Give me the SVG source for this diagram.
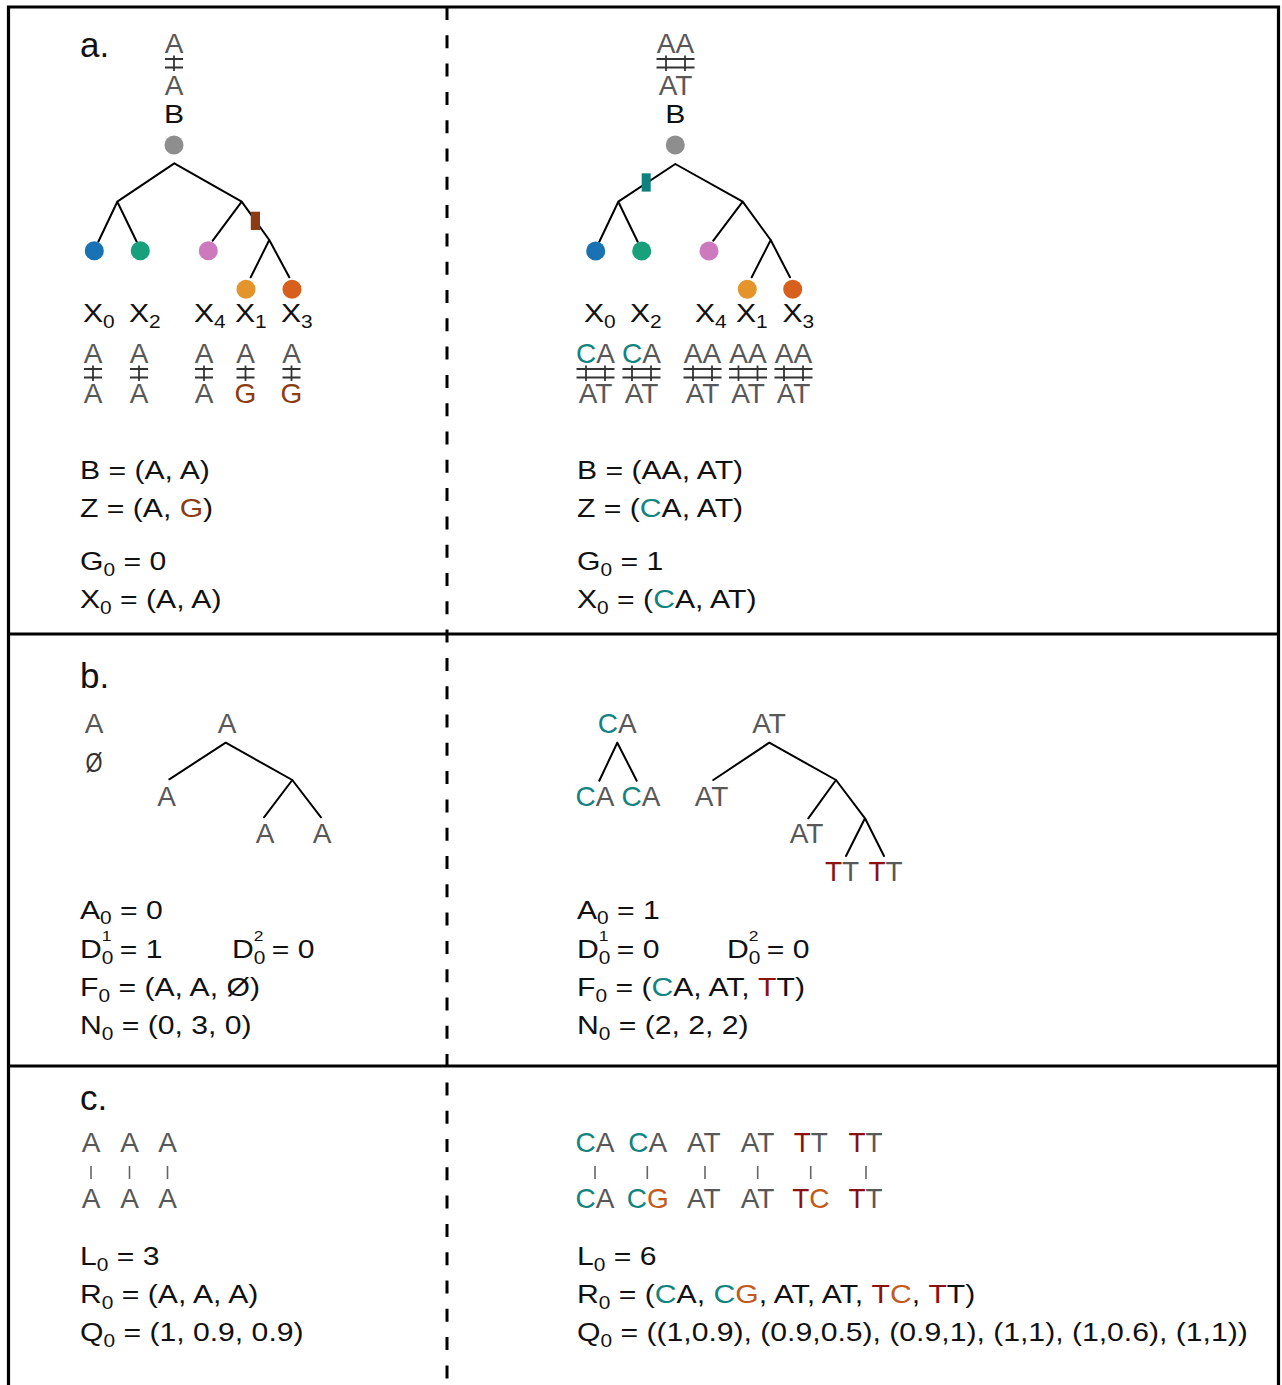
<svg xmlns="http://www.w3.org/2000/svg" xmlns:xlink="http://www.w3.org/1999/xlink" width="1282" height="1385" viewBox="0 0 1282 1385">
<style>
text { font-family: "Liberation Sans", Arial, sans-serif; }
.g { font-size: 28px; fill: #585858; text-anchor: middle; }
.k { font-size: 26px; fill: #111; }
.km { font-size: 26px; fill: #111; text-anchor: middle; }
.s { font-size: 18px; }
.sp { font-size: 15px; }
.lbl { font-size: 35px; fill: #111; }
.teal { fill: #118480; }
.brn { fill: #8b3c12; }
.org { fill: #c25a1e; }
.red { fill: #8b1010; }
.edge { stroke: #000; stroke-width: 2; fill: none; stroke-linecap: round; }
.bar { stroke: #333; stroke-width: 1.8; fill: none; }
.vb { stroke: #666; stroke-width: 1.6; }
.frame { stroke: #000; stroke-width: 3.2; fill: none; }
.dash { stroke: #000; stroke-width: 3; stroke-dasharray: 13 15.3; }
</style>
<defs>
<path id="bar1" class="bar" d="M-9 6H9M-9 14.5H9M0 2.5V18"/>
<path id="bar2" class="bar" d="M-19 6H19M-19 14.5H19M-9.5 2.5V18M9.5 2.5V18"/>
</defs>
<rect width="1282" height="1385" fill="#fff"/>

<!-- frame -->
<g id="frame">
<path class="frame" d="M8.5 1385V7H1278.5V1385"/>
<path class="frame" d="M8.5 634H1278.5M8.5 1066H1278.5"/>
<path class="dash" d="M447 7V1385"/>
</g>

<!-- connectors -->
<g id="connectors">
<path class="edge" d="M174.3 163.3L117.3 201.7M174.3 163.3L241.7 201.7M117.3 201.7L98.3 241.7M117.3 201.7L136.7 241.7M241.7 201.7L212.7 240.7M241.7 201.7L269.3 240M269.3 240L250.7 277.3M269.3 240L289.3 277.3"/>
<path class="edge" d="M675.3 164L618.3 201.7M675.3 164L742.7 201.7M618.3 201.7L599.3 241.7M618.3 201.7L637.7 241.7M742.7 201.7L713.3 240.7M742.7 201.7L770.7 240M770.7 240L751.7 277.3M770.7 240L790 277.3"/>
<path class="edge" d="M225.7 742.7L169.3 779.3M225.7 742.7L292.3 780M292.3 780L264 817.3M292.3 780L321 817.3"/>
<path class="edge" d="M617.3 742.7L599.3 780.7M617.3 742.7L636.7 780.7"/>
<path class="edge" d="M769.3 742.7L713.3 780M769.3 742.7L836 780M836 780L808.3 818.3M836 780L865 818.3M865 818.3L846 856M865 818.3L884 856"/>
<rect x="250.8" y="211.7" width="9.2" height="18.3" fill="#8b3c12"/>
<rect x="641.7" y="173.3" width="9" height="18.3" fill="#0f8080"/>
</g>

<!-- panel a left -->
<g id="a-label"><text class="lbl" x="80" y="57">a.</text></g>
<g id="a-root-left">
<text class="g" x="174" y="53">A</text>
<use xlink:href="#bar1" x="174" y="53"/>
<text class="g" x="174" y="95">A</text>
<text class="km" transform="translate(174 123) scale(1.16 1)">B</text>
<circle cx="174" cy="145" r="9.5" fill="#8e8e8e"/>
</g>
<g id="a-left-X0">
<circle cx="94.3" cy="250.7" r="9.5" fill="#1872b4"/>
<text class="k" transform="translate(83 322) scale(1.16 1)">X<tspan class="s" dy="6">0</tspan></text>
<text class="g" x="93" y="363">A</text><use xlink:href="#bar1" x="93" y="363"/><text class="g" x="93" y="403">A</text>
</g>
<g id="a-left-X2">
<circle cx="140.3" cy="250.7" r="9.5" fill="#18a07a"/>
<text class="k" transform="translate(129 322) scale(1.16 1)">X<tspan class="s" dy="6">2</tspan></text>
<text class="g" x="139" y="363">A</text><use xlink:href="#bar1" x="139" y="363"/><text class="g" x="139" y="403">A</text>
</g>
<g id="a-left-X4">
<circle cx="208.3" cy="250.7" r="9.5" fill="#cc79bd"/>
<text class="k" transform="translate(194 322) scale(1.16 1)">X<tspan class="s" dy="6">4</tspan></text>
<text class="g" x="204" y="363">A</text><use xlink:href="#bar1" x="204" y="363"/><text class="g" x="204" y="403">A</text>
</g>
<g id="a-left-X1">
<circle cx="246" cy="289.3" r="9.5" fill="#e3942a"/>
<text class="k" transform="translate(235 322) scale(1.16 1)">X<tspan class="s" dy="6">1</tspan></text>
<text class="g" x="245.5" y="363">A</text><use xlink:href="#bar1" x="245.5" y="363"/><text class="g brn" x="245.5" y="403">G</text>
</g>
<g id="a-left-X3">
<circle cx="292" cy="289.3" r="9.5" fill="#d6601c"/>
<text class="k" transform="translate(281 322) scale(1.16 1)">X<tspan class="s" dy="6">3</tspan></text>
<text class="g" x="291.5" y="363">A</text><use xlink:href="#bar1" x="291.5" y="363"/><text class="g brn" x="291.5" y="403">G</text>
</g>
<g id="a-left-text">
<text class="k" transform="translate(80 479) scale(1.16 1)">B = (A, A)</text>
<text class="k" transform="translate(80 517) scale(1.16 1)">Z = (A, <tspan class="brn">G</tspan>)</text>
<text class="k" transform="translate(80 570) scale(1.16 1)">G<tspan class="s" dy="6">0</tspan><tspan dy="-6"> = 0</tspan></text>
<text class="k" transform="translate(80 608) scale(1.16 1)">X<tspan class="s" dy="6">0</tspan><tspan dy="-6"> = (A, A)</tspan></text>
</g>

<!-- panel a right -->
<g id="a-root-right">
<text class="g" x="675.5" y="53">AA</text>
<use xlink:href="#bar2" x="675.5" y="53"/>
<text class="g" x="675.5" y="95">AT</text>
<text class="km" transform="translate(675.3 123) scale(1.16 1)">B</text>
<circle cx="675.3" cy="145" r="9.5" fill="#8e8e8e"/>
</g>
<g id="a-right-X0">
<circle cx="595.7" cy="251" r="9.5" fill="#1872b4"/>
<text class="k" transform="translate(584 322) scale(1.16 1)">X<tspan class="s" dy="6">0</tspan></text>
<text class="g" x="595.5" y="363"><tspan class="teal">C</tspan>A</text><use xlink:href="#bar2" x="595.5" y="363"/><text class="g" x="595.5" y="403">AT</text>
</g>
<g id="a-right-X2">
<circle cx="641.7" cy="251" r="9.5" fill="#18a07a"/>
<text class="k" transform="translate(630 322) scale(1.16 1)">X<tspan class="s" dy="6">2</tspan></text>
<text class="g" x="641.5" y="363"><tspan class="teal">C</tspan>A</text><use xlink:href="#bar2" x="641.5" y="363"/><text class="g" x="641.5" y="403">AT</text>
</g>
<g id="a-right-X4">
<circle cx="709" cy="251" r="9.5" fill="#cc79bd"/>
<text class="k" transform="translate(695 322) scale(1.16 1)">X<tspan class="s" dy="6">4</tspan></text>
<text class="g" x="702.5" y="363">AA</text><use xlink:href="#bar2" x="702.5" y="363"/><text class="g" x="702.5" y="403">AT</text>
</g>
<g id="a-right-X1">
<circle cx="747.3" cy="289.3" r="9.5" fill="#e3942a"/>
<text class="k" transform="translate(736 322) scale(1.16 1)">X<tspan class="s" dy="6">1</tspan></text>
<text class="g" x="748" y="363">AA</text><use xlink:href="#bar2" x="748" y="363"/><text class="g" x="748" y="403">AT</text>
</g>
<g id="a-right-X3">
<circle cx="792.7" cy="289.3" r="9.5" fill="#d6601c"/>
<text class="k" transform="translate(782.5 322) scale(1.16 1)">X<tspan class="s" dy="6">3</tspan></text>
<text class="g" x="793.5" y="363">AA</text><use xlink:href="#bar2" x="793.5" y="363"/><text class="g" x="793.5" y="403">AT</text>
</g>
<g id="a-right-text">
<text class="k" transform="translate(577 479) scale(1.16 1)">B = (AA, AT)</text>
<text class="k" transform="translate(577 517) scale(1.16 1)">Z = (<tspan class="teal">C</tspan>A, AT)</text>
<text class="k" transform="translate(577 570) scale(1.16 1)">G<tspan class="s" dy="6">0</tspan><tspan dy="-6"> = 1</tspan></text>
<text class="k" transform="translate(577 608) scale(1.16 1)">X<tspan class="s" dy="6">0</tspan><tspan dy="-6"> = (<tspan class="teal">C</tspan>A, AT)</tspan></text>
</g>

<!-- panel b left -->
<g id="b-label"><text class="lbl" x="80" y="688">b.</text></g>
<g id="b-left-legend">
<text class="g" x="94" y="733">A</text>
<text class="g" transform="translate(94 772) scale(0.78 1)" style="fill:#333">Ø</text>
</g>
<g id="b-left-root"><text class="g" x="227" y="733">A</text></g>
<g id="b-left-leaf1"><text class="g" x="166.7" y="806">A</text></g>
<g id="b-left-leaf2"><text class="g" x="265" y="843">A</text></g>
<g id="b-left-leaf3"><text class="g" x="322" y="843">A</text></g>
<g id="b-left-text">
<text class="k" transform="translate(80 919) scale(1.16 1)">A<tspan class="s" dy="5">0</tspan><tspan dy="-5"> = 0</tspan></text>
<text class="k" transform="translate(80 958) scale(1.16 1)">D<tspan class="s" dy="6">0</tspan><tspan class="sp" dx="-10" dy="-23">1</tspan><tspan dy="17"> = 1</tspan></text>
<text class="k" transform="translate(232 958) scale(1.16 1)">D<tspan class="s" dy="6">0</tspan><tspan class="sp" dx="-10" dy="-23">2</tspan><tspan dy="17"> = 0</tspan></text>
<text class="k" transform="translate(80 996) scale(1.16 1)">F<tspan class="s" dy="6">0</tspan><tspan dy="-6"> = (A, A, Ø)</tspan></text>
<text class="k" transform="translate(80 1034) scale(1.16 1)">N<tspan class="s" dy="6">0</tspan><tspan dy="-6"> = (0, 3, 0)</tspan></text>
</g>

<!-- panel b right -->
<g id="b-right-root1"><text class="g" x="617.3" y="733"><tspan class="teal">C</tspan>A</text></g>
<g id="b-right-leaf1a"><text class="g" x="595" y="806"><tspan class="teal">C</tspan>A</text></g>
<g id="b-right-leaf1b"><text class="g" x="641" y="806"><tspan class="teal">C</tspan>A</text></g>
<g id="b-right-root2"><text class="g" x="769" y="733">AT</text></g>
<g id="b-right-leaf2a"><text class="g" x="711.5" y="806">AT</text></g>
<g id="b-right-leaf2b"><text class="g" x="806.5" y="843">AT</text></g>
<g id="b-right-leaf2c"><text class="g" x="842" y="881"><tspan class="red">T</tspan>T</text></g>
<g id="b-right-leaf2d"><text class="g" x="885.5" y="881"><tspan class="red">T</tspan>T</text></g>
<g id="b-right-text">
<text class="k" transform="translate(577 919) scale(1.16 1)">A<tspan class="s" dy="5">0</tspan><tspan dy="-5"> = 1</tspan></text>
<text class="k" transform="translate(577 958) scale(1.16 1)">D<tspan class="s" dy="6">0</tspan><tspan class="sp" dx="-10" dy="-23">1</tspan><tspan dy="17"> = 0</tspan></text>
<text class="k" transform="translate(727 958) scale(1.16 1)">D<tspan class="s" dy="6">0</tspan><tspan class="sp" dx="-10" dy="-23">2</tspan><tspan dy="17"> = 0</tspan></text>
<text class="k" transform="translate(577 996) scale(1.16 1)">F<tspan class="s" dy="6">0</tspan><tspan dy="-6"> = (<tspan class="teal">C</tspan>A, AT, <tspan class="red">T</tspan>T)</tspan></text>
<text class="k" transform="translate(577 1034) scale(1.16 1)">N<tspan class="s" dy="6">0</tspan><tspan dy="-6"> = (2, 2, 2)</tspan></text>
</g>

<!-- panel c left -->
<g id="c-label"><text class="lbl" x="80" y="1110">c.</text></g>
<g id="c-left-reads">
<text class="g" x="91" y="1152">A</text><text class="g" x="129.5" y="1152">A</text><text class="g" x="167.5" y="1152">A</text>
<path class="vb" d="M91 1166V1179M129.5 1166V1179M167.5 1166V1179"/>
<text class="g" x="91" y="1208">A</text><text class="g" x="129.5" y="1208">A</text><text class="g" x="167.5" y="1208">A</text>
</g>
<g id="c-left-text">
<text class="k" transform="translate(80 1265) scale(1.16 1)">L<tspan class="s" dy="6">0</tspan><tspan dy="-6"> = 3</tspan></text>
<text class="k" transform="translate(80 1303) scale(1.16 1)">R<tspan class="s" dy="6">0</tspan><tspan dy="-6"> = (A, A, A)</tspan></text>
<text class="k" transform="translate(80 1341) scale(1.16 1)">Q<tspan class="s" dy="6">0</tspan><tspan dy="-6"> = (1, 0.9, 0.9)</tspan></text>
</g>

<!-- panel c right -->
<g id="c-right-reads">
<text class="g" x="595" y="1152"><tspan class="teal">C</tspan>A</text>
<text class="g" x="647.7" y="1152"><tspan class="teal">C</tspan>A</text>
<text class="g" x="703.8" y="1152">AT</text>
<text class="g" x="757.5" y="1152">AT</text>
<text class="g" x="810.8" y="1152"><tspan class="red">T</tspan>T</text>
<text class="g" x="865.5" y="1152"><tspan class="red">T</tspan>T</text>
<path class="vb" d="M595 1166V1179M647.3 1166V1179M705 1166V1179M757.7 1166V1179M810.7 1166V1179M866 1166V1179"/>
<text class="g" x="595" y="1208"><tspan class="teal">C</tspan>A</text>
<text class="g" x="647.7" y="1208"><tspan class="teal">C</tspan><tspan class="org">G</tspan></text>
<text class="g" x="703.8" y="1208">AT</text>
<text class="g" x="757.5" y="1208">AT</text>
<text class="g" x="810.8" y="1208"><tspan class="red">T</tspan><tspan class="org">C</tspan></text>
<text class="g" x="865.5" y="1208"><tspan class="red">T</tspan>T</text>
</g>
<g id="c-right-text">
<text class="k" transform="translate(577 1265) scale(1.16 1)">L<tspan class="s" dy="6">0</tspan><tspan dy="-6"> = 6</tspan></text>
<text class="k" transform="translate(577 1303) scale(1.16 1)">R<tspan class="s" dy="6">0</tspan><tspan dy="-6"> = (<tspan class="teal">C</tspan>A, <tspan class="teal">C</tspan><tspan class="org">G</tspan>, AT, AT, <tspan class="red">T</tspan><tspan class="org">C</tspan>, <tspan class="red">T</tspan>T)</tspan></text>
<text class="k" transform="translate(577 1341) scale(1.16 1)">Q<tspan class="s" dy="6">0</tspan><tspan dy="-6"> = ((1,0.9), (0.9,0.5), (0.9,1), (1,1), (1,0.6), (1,1))</tspan></text>
</g>
</svg>
